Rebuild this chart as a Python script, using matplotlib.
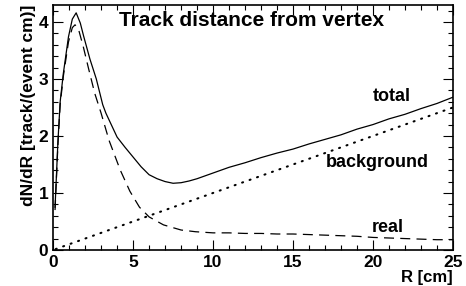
# Track distance from vertex
import matplotlib
matplotlib.use('Agg')
import matplotlib.pyplot as plt
from matplotlib.ticker import MultipleLocator

plt.rcParams['font.family'] = ['Liberation Sans', 'DejaVu Sans']
plt.rcParams['font.weight'] = 'bold'

# total
r_tot = [0.12, 0.3, 0.44, 0.64, 0.96, 1.2, 1.44, 1.7, 1.9, 2.3, 2.7, 3.1, 3.3, 4, 4.5, 5, 5.5, 6, 6.5, 7, 7.5, 8,
         8.5, 9, 9.5, 10, 11, 12, 13, 14, 15, 16, 17, 18, 19, 20, 21, 22, 23, 24, 25]
n_tot = [0.75, 1.9, 2.6, 3.1, 3.74, 4.05, 4.16, 3.98, 3.76, 3.35, 3.0, 2.55, 2.4, 1.98, 1.8, 1.63, 1.46, 1.32, 1.25, 1.2, 1.17, 1.18,
         1.21, 1.25, 1.3, 1.35, 1.45, 1.53, 1.62, 1.7, 1.77, 1.86, 1.94, 2.02, 2.12, 2.2, 2.3, 2.38, 2.48, 2.57, 2.68]
# real
r_real = [0.12, 0.3, 0.44, 0.64, 0.96, 1.2, 1.37, 1.58, 1.9, 2.2, 2.6, 3.0, 3.5, 4.2, 4.8, 5.4, 6, 6.9, 8,
          8.9, 10, 11, 12, 13, 14, 15, 16, 17, 18, 19, 20, 21, 22, 23, 24, 25]
n_real = [0.7, 1.85, 2.55, 3.05, 3.65, 3.9, 3.95, 3.88, 3.55, 3.2, 2.75, 2.4, 1.92, 1.4, 1.03, 0.75, 0.58, 0.44, 0.35,
          0.32, 0.3, 0.3, 0.29, 0.29, 0.28, 0.28, 0.27, 0.26, 0.25, 0.24, 0.22, 0.21, 0.2, 0.19, 0.18, 0.18]
# background
r_bg = [0, 5, 10, 15, 20, 25]
n_bg = [0.0, 0.5, 1.0, 1.5, 2.0, 2.5]

fig = plt.figure(figsize=(4.66, 2.86), dpi=100)
ax = fig.add_axes([0.114, 0.126, 0.858, 0.857])

ax.plot(r_tot, n_tot, 'k-', lw=0.9)
ax.plot(r_real, n_real, color='k', lw=0.9, ls=(0, (8, 5)))
ax.plot(r_bg, n_bg, color='k', lw=1.5, ls=(2.5, (0.5, 3.3)), dash_capstyle='round')

ax.set_xlim(0, 25)
ax.set_ylim(0, 4.3)
ax.xaxis.set_major_locator(MultipleLocator(5))
ax.xaxis.set_minor_locator(MultipleLocator(1))
ax.yaxis.set_major_locator(MultipleLocator(1))
ax.yaxis.set_minor_locator(MultipleLocator(0.2))
ax.tick_params(which='both', direction='in', top=True, right=True, labelsize=12.5, width=0.8)
ax.tick_params(which='major', length=7)
ax.tick_params(which='minor', length=3.5)
for s in ax.spines.values():
    s.set_linewidth(1.2)

ax.set_xlabel('R [cm]', fontsize=12, fontweight='bold', loc='right', labelpad=0)
ax.set_ylabel('dN/dR [track/(event cm)]', fontsize=12.5, fontweight='bold', loc='top', labelpad=2)

ax.text(12.4, 4.03, 'Track distance from vertex', fontsize=15, fontweight='bold', ha='center', va='center')
ax.text(21.2, 2.7, 'total', fontsize=13, fontweight='bold', ha='center', va='center')
ax.text(20.3, 1.53, 'background', fontsize=13, fontweight='bold', ha='center', va='center')
ax.text(20.9, 0.4, 'real', fontsize=13, fontweight='bold', ha='center', va='center')

fig.savefig('out.png', dpi=100)
